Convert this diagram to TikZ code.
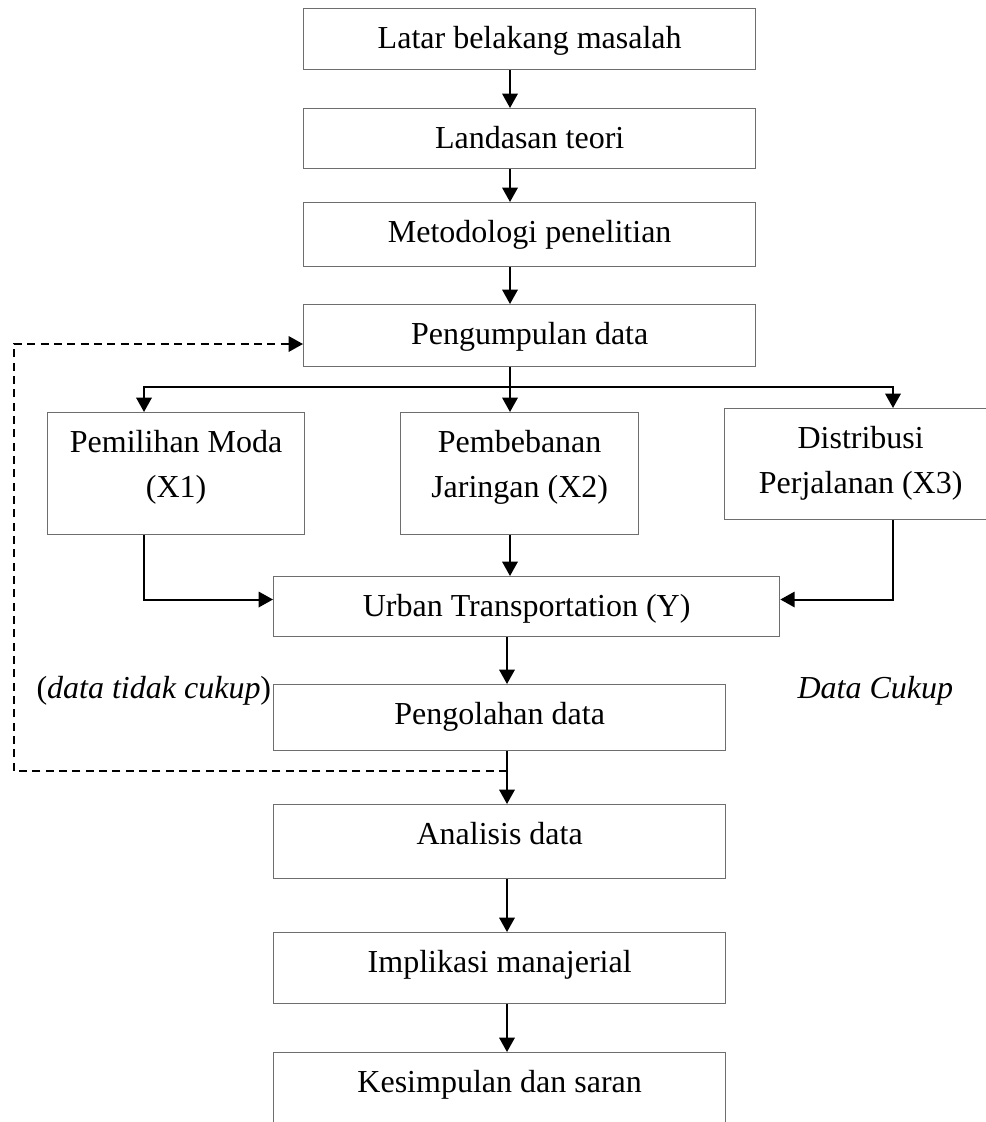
\documentclass[tikz,border=0pt]{standalone}
\usepackage{fontspec}
\setmainfont{Liberation Serif}
\usetikzlibrary{arrows.meta}
\definecolor{boxgray}{RGB}{110,110,110}
\begin{document}
\begin{tikzpicture}[x=0.375pt, y=-0.375pt,
  box/.style={draw=boxgray, line width=0.5pt, inner sep=0pt, anchor=north west,
    text height=14.8pt, font=\fontsize{12pt}{16.9pt}\selectfont},
  conn/.style={line width=0.75pt, black},
  arr/.style={conn, -{Triangle[length=5.4pt,width=5.8pt]}},
  darr/.style={arr, dash pattern=on 3pt off 2pt},
  lbl/.style={inner sep=0pt, anchor=base west, font=\fontsize{12pt}{16.9pt}\selectfont}]
\useasboundingbox (0,0) rectangle (985,1122);

% helper coordinates for connector routes
\coordinate (cx) at (510,0);
\coordinate (lx) at (507,0);
\coordinate (c1) at (144,0);
\coordinate (c3) at (893,0);
\coordinate (br) at (0,387);
\coordinate (ry) at (0,599.5);
\coordinate (dx) at (14,0);
\coordinate (dy) at (0,771);
\coordinate (dt) at (0,344);

% boxes
\node[box, minimum width=169.5pt, text depth=8.06pt] (b1) at (303,8) {Latar belakang masalah};
\node[box, minimum width=169.5pt, text depth=7.69pt] (b2) at (303,108) {Landasan teori};
\node[box, minimum width=169.5pt, text depth=9.19pt] (b3) at (303,202) {Metodologi penelitian};
\node[box, minimum width=169.5pt, text depth=8.44pt] (b4) at (303,304) {Pengumpulan data};

\node[box, minimum width=96.375pt, text depth=30.94pt] (x1) at (47,412)
  {\begin{tabular}[t]{@{}c@{}}Pemilihan Moda\\(X1)\end{tabular}};
\node[box, minimum width=89.25pt, text depth=30.94pt] (x2) at (400,412)
  {\begin{tabular}[t]{@{}c@{}}Pembebanan\\Jaringan (X2)\end{tabular}};
\node[box, minimum width=102pt, text depth=26.81pt] (x3) at (724,408)
  {\begin{tabular}[t]{@{}c@{}}Distribusi\\Perjalanan (X3)\end{tabular}};

\node[box, minimum width=189.75pt, text depth=7.69pt] (yb) at (273,576) {Urban Transportation (Y)};
\node[box, minimum width=169.5pt, text depth=9.94pt] (pg) at (273,684) {Pengolahan data};
\node[box, minimum width=169.5pt, text depth=12.94pt] (an) at (273,804) {Analisis data};
\node[box, minimum width=169.5pt, text depth=11.81pt] (im) at (273,932) {Implikasi manajerial};
\node[box, minimum width=169.5pt, text depth=15.2pt] (ks) at (273,1052) {Kesimpulan dan saran};

% side labels
\node[lbl] (tc) at (36,698) {(\textit{data tidak cukup})};
\node[lbl] (dc) at (797,698) {\textit{Data Cukup}};

% connectors
\draw[arr] (b1.south -| cx) -- (b2.north -| cx);
\draw[arr] (b2.south -| cx) -- (b3.north -| cx);
\draw[arr] (b3.south -| cx) -- (b4.north -| cx);
\draw[conn] (b4.south -| cx) -- (br -| cx);
\draw[arr] (br -| cx) -- (x2.north -| cx);
\draw[arr] (br -| cx) -- (br -| c1) -- (x1.north -| c1);
\draw[arr] (br -| cx) -- (br -| c3) -- (x3.north -| c3);
\draw[arr] (x1.south -| c1) |- (yb.west |- ry);
\draw[arr] (x3.south -| c3) |- (yb.east |- ry);
\draw[arr] (x2.south -| cx) -- (yb.north -| cx);
\draw[arr] (yb.south -| lx) -- (pg.north -| lx);
\draw[arr] (pg.south -| lx) -- (an.north -| lx);
\draw[arr] (an.south -| lx) -- (im.north -| lx);
\draw[arr] (im.south -| lx) -- (ks.north -| lx);
\draw[darr] (lx |- dy) -- (dx |- dy) -- (dx |- dt) -- (b4.west |- dt);
\end{tikzpicture}
\end{document}
